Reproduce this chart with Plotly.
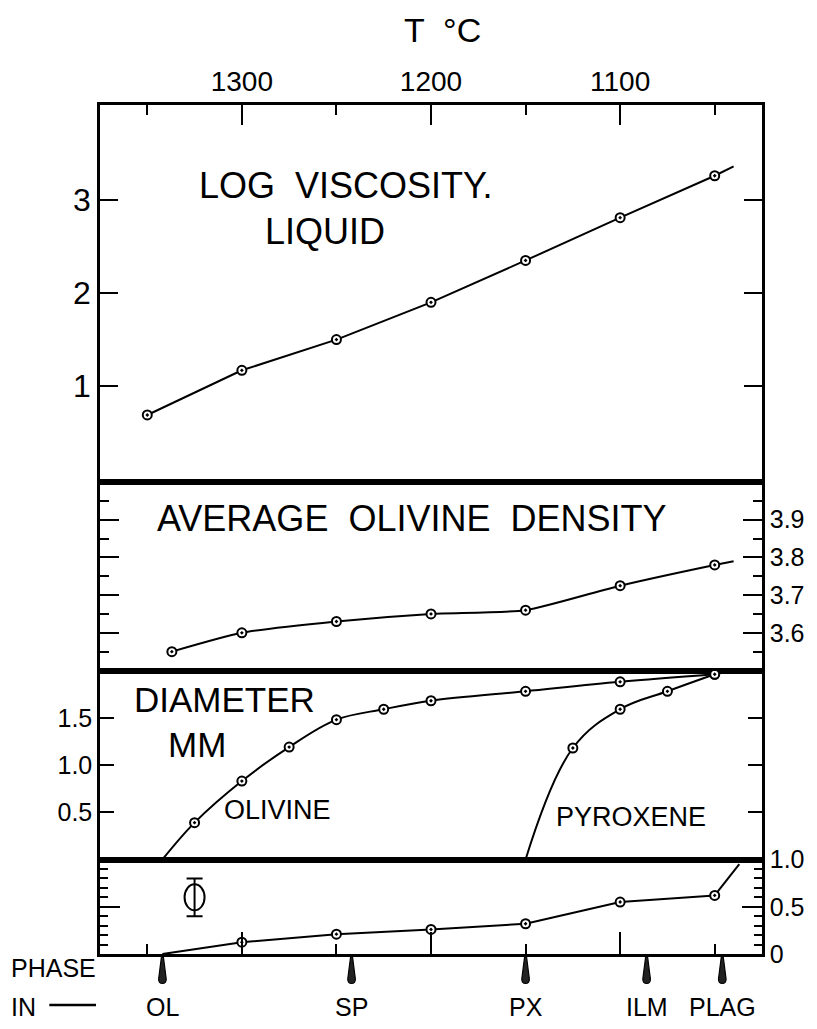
import plotly.graph_objects as go

# ---- data -------------------------------------------------------------
# Log viscosity of the liquid
T_visc = [1350, 1300, 1250, 1200, 1150, 1100, 1050]
log_visc = [0.69, 1.17, 1.50, 1.90, 2.35, 2.81, 3.26]
visc_tail_T, visc_tail = 1040, 3.36

# Average olivine density
T_dens = [1337, 1300, 1250, 1200, 1150, 1100, 1050]
dens = [3.55, 3.60, 3.63, 3.65, 3.66, 3.725, 3.78]
dens_tail_T, dens_tail = 1040, 3.79

# Crystal diameter (mm)
T_ol = [1325, 1300, 1275, 1250, 1225, 1200, 1150, 1100, 1050]
diam_ol = [0.39, 0.83, 1.19, 1.48, 1.59, 1.68, 1.78, 1.88, 1.96]
T_px = [1125, 1100, 1075, 1050]
diam_px = [1.18, 1.59, 1.78, 1.96]

# Bottom panel series
T_frac = [1300, 1250, 1200, 1150, 1100, 1050]
frac = [0.125, 0.21, 0.26, 0.32, 0.55, 0.62]
frac_tail_T, frac_tail = 1037, 0.95
err_T, err_val, err_half = 1325, 0.60, 0.20

# Phase-in temperatures
phases = ["OL", "SP", "PX", "ILM", "PLAG"]
phase_T = [1342, 1242, 1150, 1086, 1046]

# Axis ticks
t_major = [1300, 1200, 1100]
t_minor = [1350, 1250, 1150, 1050]
T_RANGE = [1375, 1025]

FONT = "Liberation Sans"
W, H = 817, 1029
ML, MR, MT, MB = 100, 51, 105, 75
PW, PH = W - ML - MR, H - MT - MB


def px(x):
    return (x - ML) / PW


def py(y):
    return (H - MB - y) / PH


dom1 = [py(482), 1]
dom2 = [py(670.5), py(482)]
dom3 = [py(859.5), py(670.5)]
dom4 = [0, py(859.5)]

fig = go.Figure()

LINE = dict(color="black", width=2)
MARK = dict(symbol="circle-dot", size=9, color="white",
            line=dict(color="black", width=2))

# panel 1
fig.add_trace(go.Scatter(x=T_visc + [visc_tail_T], y=log_visc + [visc_tail],
                         mode="lines", line=LINE, xaxis="x", yaxis="y"))
fig.add_trace(go.Scatter(x=T_visc, y=log_visc, mode="markers", marker=MARK,
                         xaxis="x", yaxis="y"))

# panel 2
fig.add_trace(go.Scatter(x=T_dens + [dens_tail_T], y=dens + [dens_tail],
                         mode="lines", line=dict(LINE, shape="spline", smoothing=0.6),
                         xaxis="x2", yaxis="y2"))
fig.add_trace(go.Scatter(x=T_dens, y=dens, mode="markers", marker=MARK,
                         xaxis="x2", yaxis="y2"))

# panel 3
ol_T0 = phase_T[phases.index("OL")]
px_T0 = phase_T[phases.index("PX")]
fig.add_trace(go.Scatter(x=[ol_T0] + T_ol, y=[0] + diam_ol, mode="lines",
                         line=dict(LINE, shape="spline", smoothing=1.0),
                         xaxis="x3", yaxis="y3"))
fig.add_trace(go.Scatter(x=[px_T0] + T_px, y=[0] + diam_px, mode="lines",
                         line=dict(LINE, shape="spline", smoothing=1.1),
                         xaxis="x3", yaxis="y3"))
fig.add_trace(go.Scatter(x=T_ol + T_px, y=diam_ol + diam_px, mode="markers",
                         marker=MARK, xaxis="x3", yaxis="y3"))

# panel 4
fig.add_trace(go.Scatter(x=[ol_T0] + T_frac, y=[0] + frac, mode="lines",
                         line=LINE, xaxis="x4", yaxis="y4"))
fig.add_trace(go.Scatter(x=[T_frac[-1], frac_tail_T], y=[frac[-1], frac_tail],
                         mode="lines", line=LINE, xaxis="x4", yaxis="y4"))
fig.add_trace(go.Scatter(x=T_frac, y=frac, mode="markers", marker=MARK,
                         xaxis="x4", yaxis="y4"))
fig.add_trace(go.Scatter(x=[err_T], y=[err_val], mode="markers",
                         marker=dict(size=1, color="black"),
                         error_y=dict(type="data", array=[err_half], width=8,
                                      thickness=2, color="black"),
                         xaxis="x4", yaxis="y4"))

frame = dict(showline=True, linewidth=2.5, linecolor="black", showgrid=False,
             zeroline=False, ticks="inside", tickcolor="black", tickwidth=1.5)
xfont = dict(family=FONT, size=28, color="black")
yfont = dict(family=FONT, size=25, color="black")

layout = dict(
    width=W, height=H, margin=dict(l=ML, r=MR, t=MT, b=MB),
    paper_bgcolor="white", plot_bgcolor="white", showlegend=False,
    font=dict(family=FONT, color="black"),
    xaxis=dict(frame, domain=[0, 1], anchor="y", side="top", range=T_RANGE,
               mirror=True, tickvals=t_major, ticktext=[str(t) for t in t_major],
               ticklen=20, tickfont=xfont,
               minor=dict(tickvals=t_minor, ticklen=10, ticks="inside",
                          tickcolor="black", tickwidth=1.5)),
    xaxis2=dict(frame, domain=[0, 1], anchor="y2", range=T_RANGE, mirror=True,
                ticks="", showticklabels=False, matches="x"),
    xaxis3=dict(frame, domain=[0, 1], anchor="y3", range=T_RANGE, mirror=True,
                ticks="", showticklabels=False, matches="x"),
    xaxis4=dict(frame, domain=[0, 1], anchor="y4", side="bottom", range=T_RANGE,
                mirror=True, tickvals=t_major, ticklen=22, showticklabels=False,
                matches="x",
                minor=dict(tickvals=t_minor, ticklen=10, ticks="inside",
                           tickcolor="black", tickwidth=1.5)),
    yaxis=dict(frame, domain=dom1, anchor="x", side="left", range=[-0.03, 4.02],
               mirror="ticks", tickvals=[1, 2, 3], ticklen=18,
               tickfont=dict(family=FONT, size=32, color="black")),
    yaxis2=dict(frame, domain=dom2, anchor="x2", side="right", range=[3.5, 4.0],
                mirror="ticks", tickvals=[3.6, 3.7, 3.8, 3.9],
                ticktext=["3.6", "3.7", "3.8", "3.9"], ticklen=19, tickfont=yfont,
                minor=dict(tickvals=[3.55, 3.65, 3.75, 3.85, 3.95], ticklen=9,
                           ticks="inside", tickcolor="black", tickwidth=1.5)),
    yaxis3=dict(frame, domain=dom3, anchor="x3", side="left", range=[0, 2.0],
                mirror="ticks", tickvals=[0.5, 1.0, 1.5],
                ticktext=["0.5", "1.0", "1.5"], ticklen=14, tickfont=yfont),
    yaxis4=dict(frame, domain=dom4, anchor="x4", side="right", range=[0, 1.0],
                mirror="ticks", tickvals=[0, 0.5, 1.0], ticktext=["0", "0.5", "1.0"],
                ticklen=20, tickfont=yfont,
                minor=dict(tickvals=[0.1, 0.2, 0.3, 0.4, 0.6, 0.7, 0.8, 0.9],
                           ticklen=8, ticks="inside", tickcolor="black",
                           tickwidth=1.5)),
)
fig.update_layout(**layout)


def label(text, x, y, size, anchor="left"):
    fig.add_annotation(text=text, x=px(x), y=py(y), xref="paper", yref="paper",
                       xanchor=anchor, yanchor="middle", showarrow=False,
                       font=dict(family=FONT, size=size, color="black"))


label("T  °C", 445, 30, 34, "center")
label("LOG  VISCOSITY.", 198, 185, 36)
label("LIQUID", 264, 231, 36)
label("AVERAGE  OLIVINE  DENSITY", 155, 518, 36)
label("DIAMETER", 132, 699, 35)
label("MM", 166, 744, 35)
label("OLIVINE", 223, 810, 27)
label("PYROXENE", 557, 817, 27)
label("PHASE", 8, 968, 25)
label("IN", 8, 1007, 25)

# short rule after "IN"
fig.add_shape(type="line", xref="paper", yref="paper",
              x0=px(49), x1=px(96), y0=py(1005), y1=py(1005),
              line=dict(color="black", width=2.5))

# phase-in names and wedge markers below the bottom axis
for name, t in zip(phases, phase_T):
    fig.add_annotation(text=name, x=t, y=py(1007), xref="x4", yref="paper",
                       xanchor="center", yanchor="middle", showarrow=False,
                       font=dict(family=FONT, size=25, color="black"))
    fig.add_shape(type="path", xref="x4", yref="paper", xsizemode="pixel",
                  ysizemode="pixel", xanchor=t, yanchor=0,
                  path="M -1,-3 L 1,-3 L 3.8,-25 C 3.8,-31 -3.8,-31 -3.8,-25 Z",
                  fillcolor="#222", line=dict(color="black", width=1.2))

# ellipse of the error symbol
fig.add_shape(type="circle", xref="x4", yref="y4", xsizemode="pixel",
              ysizemode="pixel", xanchor=err_T, yanchor=err_val,
              x0=-10, x1=10, y0=-13, y1=13, line=dict(color="black", width=2))

fig.write_html("out.html")
